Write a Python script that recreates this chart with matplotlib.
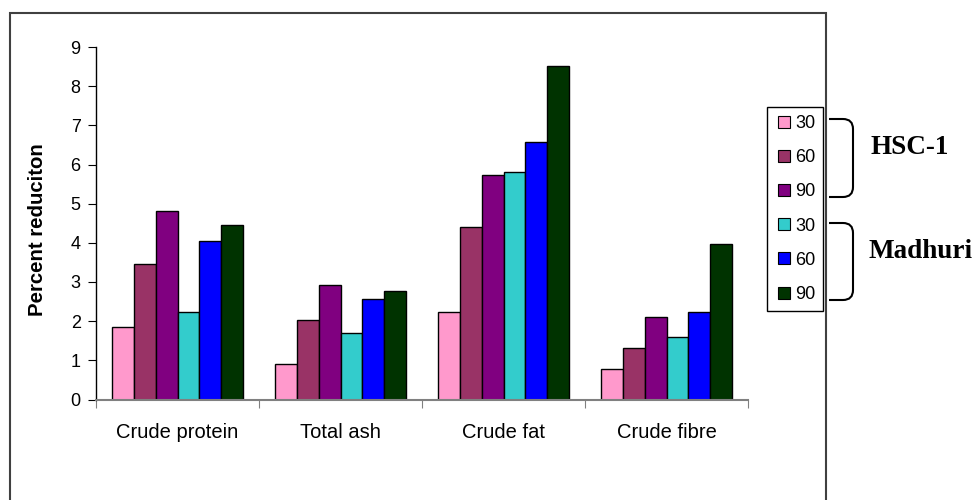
import numpy as np
import matplotlib.pyplot as plt
from matplotlib.patches import Rectangle, PathPatch
from matplotlib.path import Path
from matplotlib.lines import Line2D

plt.rcParams['font.family'] = ['Liberation Sans', 'DejaVu Sans']

categories = ['Crude protein', 'Total ash', 'Crude fat', 'Crude fibre']
doses = ['30', '60', '90', '30', '60', '90']
varieties = ['HSC-1', 'Madhuri']

hsc_30 = [1.85, 0.91, 2.23, 0.78]
hsc_60 = [3.47, 2.02, 4.41, 1.32]
hsc_90 = [4.82, 2.92, 5.74, 2.11]
mad_30 = [2.23, 1.69, 5.82, 1.60]
mad_60 = [4.05, 2.56, 6.57, 2.23]
mad_90 = [4.46, 2.77, 8.51, 3.96]
series = [hsc_30, hsc_60, hsc_90, mad_30, mad_60, mad_90]

colors = ['#FF99CC', '#993366', '#800080', '#33CCCC', '#0000FF', '#003300']

W, H = 979, 500
fig = plt.figure(figsize=(W / 100, H / 100), dpi=100)
ax = fig.add_axes([96 / W, 1 - 399.5 / H, (748 - 96) / W, (399.5 - 47) / H])

x = np.arange(len(categories))
bw = 0.8 / len(series)
for i, (vals, c) in enumerate(zip(series, colors)):
    ax.bar(x - 0.4 + bw * (i + 0.5), vals, bw, color=c, edgecolor='black', linewidth=1.0)

ax.set_xlim(-0.5, len(categories) - 0.5)
ax.set_ylim(0, 9)
ax.set_yticks(range(10))
ax.tick_params(axis='y', labelsize=13, length=6, direction='out', pad=5)
# category ticks sit between groups, labels under the groups
ax.set_xticks(np.arange(len(categories) + 1) - 0.5)
ax.set_xticklabels([])
ax.set_xticks(x, minor=True)
ax.set_xticklabels(categories, minor=True, fontsize=14.5)
ax.tick_params(axis='x', which='major', length=6, color='#808080')
ax.tick_params(axis='x', which='minor', length=0, pad=17)
ax.set_ylabel('Percent reduciton', fontsize=14.7, fontweight='bold')
ax.yaxis.set_label_coords(-0.075, 0.481)

for s in ['top', 'right']:
    ax.spines[s].set_visible(False)
ax.spines['bottom'].set_color('#808080')
ax.spines['bottom'].set_linewidth(1.5)
ax.spines['left'].set_linewidth(1.0)

# outer chart border
fig.add_artist(Rectangle((10 / W, -0.1), (826 - 10) / W, 1.1 - 13 / H,
                         transform=fig.transFigure, fill=False,
                         edgecolor='#404040', linewidth=1.5))

handles = [Line2D([], [], marker='s', linestyle='none', markersize=9,
                  markerfacecolor=c, markeredgecolor='black', markeredgewidth=0.8)
           for c in colors]
leg = fig.legend(handles, doses, loc='upper left',
                 bbox_to_anchor=(767 / W, 1 - 107 / H), fontsize=13,
                 frameon=True, fancybox=False, edgecolor='black', framealpha=1,
                 borderpad=0.45, handlelength=1.0, handletextpad=0.1,
                 labelspacing=0.95, borderaxespad=0)
leg.get_frame().set_linewidth(1.0)


def brace(y_top, y_bot, x0=829, x1=853, r=10):
    yt, yb = 1 - y_top / H, 1 - y_bot / H
    rx, ry = r / W, r / H
    xa, xb = x0 / W, x1 / W
    verts = [(xa, yt), (xb - rx, yt), (xb, yt), (xb, yt - ry),
             (xb, yb + ry),
             (xb, yb), (xb - rx, yb), (xa, yb)]
    codes = [Path.MOVETO, Path.LINETO, Path.CURVE3, Path.CURVE3,
             Path.LINETO, Path.CURVE3, Path.CURVE3, Path.LINETO]
    fig.add_artist(PathPatch(Path(verts, codes), fill=False,
                             edgecolor='black', linewidth=1.5,
                             transform=fig.transFigure))


brace(119, 197)
brace(223, 300)
fig.text(871 / W, 1 - 148 / H, varieties[0], fontsize=19.5, fontweight='bold',
         family='Liberation Serif', va='center', ha='left')
fig.text(869 / W, 1 - 252 / H, varieties[1], fontsize=19.5, fontweight='bold',
         family='Liberation Serif', va='center', ha='left')

fig.savefig('out.png', dpi=100)
